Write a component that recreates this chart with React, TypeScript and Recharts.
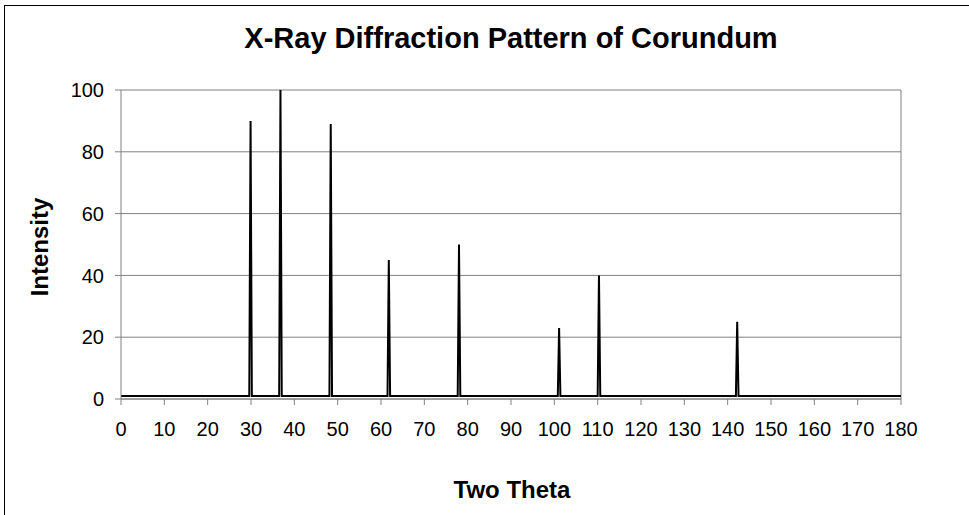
import { LineChart, Line, XAxis, YAxis, CartesianGrid, ReferenceLine } from "recharts";

// peak profile points (baseline sits at ~1)
const twoTheta = [
  0, 29.6, 29.9, 30.2, 36.5, 36.8, 37.1, 48.1, 48.4, 48.7, 61.5, 61.8, 62.1,
  77.7, 78.0, 78.3, 100.8, 101.1, 101.4, 110.0, 110.3, 110.6, 141.9, 142.2, 142.5, 180
];
const intensity = [
  1, 1, 90, 1, 1, 100, 1, 1, 89, 1, 1, 45, 1,
  1, 50, 1, 1, 23, 1, 1, 40, 1, 1, 25, 1, 1
];
const thetaTicks = [0, 10, 20, 30, 40, 50, 60, 70, 80, 90, 100, 110, 120, 130, 140, 150, 160, 170, 180];
const intensityTicks = [0, 20, 40, 60, 80, 100];

const data = twoTheta.map((t, i) => ({ theta: t, intensity: intensity[i] }));

const font = "'Liberation Sans', Arial, sans-serif";
const gray = "#808080";

export default function App() {
  return (
    <div style={{ position: "absolute", left: 0, top: 0, width: 969, height: 515, background: "#fff" }}>
      <LineChart
        width={969}
        height={515}
        data={data}
        margin={{ top: 90, right: 68, left: 0, bottom: 76 }}
      >
        <CartesianGrid vertical={false} stroke={gray} />
        <XAxis
          dataKey="theta"
          type="number"
          domain={[0, 180]}
          ticks={thetaTicks}
          interval={0}
          height={40}
          tickSize={6}
          tickMargin={17}
          stroke={gray}
          tick={{ fill: "#000", fontSize: 20, fontFamily: font }}
        />
        <YAxis
          domain={[0, 100]}
          ticks={intensityTicks}
          interval={0}
          width={121}
          tickSize={6}
          tickMargin={11}
          stroke={gray}
          tick={{ fill: "#000", fontSize: 20, fontFamily: font }}
        />
        <ReferenceLine x={180} stroke={gray} />
        <Line
          type="linear"
          dataKey="intensity"
          stroke="#000"
          strokeWidth={2}
          dot={false}
          isAnimationActive={false}
        />
      </LineChart>
      <svg
        width={969}
        height={515}
        style={{ position: "absolute", left: 0, top: 0, pointerEvents: "none" }}
      >
        <rect x={4.5} y={5.5} width={1000} height={600} fill="none" stroke="#000" />
        <text x={511} y={48} textAnchor="middle" fontFamily={font} fontWeight="bold" fontSize={29}>
          X-Ray Diffraction Pattern of Corundum
        </text>
        <text
          transform="translate(48,247) rotate(-90)"
          textAnchor="middle"
          fontFamily={font}
          fontWeight="bold"
          fontSize={24}
        >
          Intensity
        </text>
        <text x={512} y={498} textAnchor="middle" fontFamily={font} fontWeight="bold" fontSize={24}>
          Two Theta
        </text>
      </svg>
    </div>
  );
}
